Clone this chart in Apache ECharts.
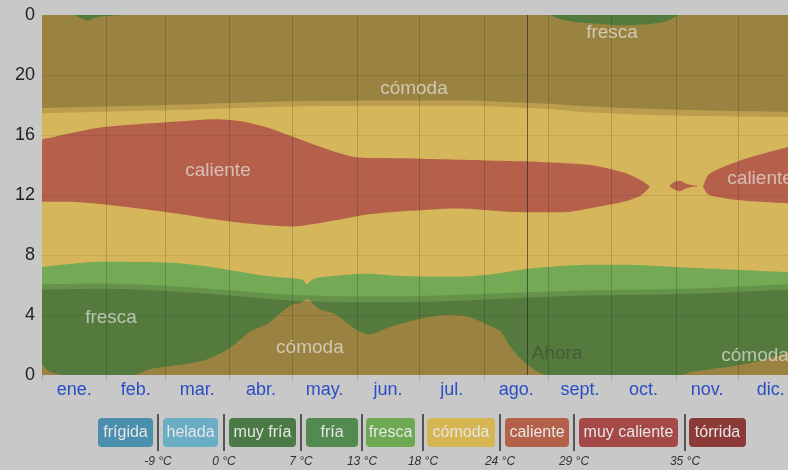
<!DOCTYPE html>
<html>
<head>
<meta charset="utf-8">
<script src="https://cdn.jsdelivr.net/npm/echarts@6/dist/echarts.min.js"></script>
<style>
  html, body { margin: 0; padding: 0; background: #c8c8c8; }
  #chart { width: 788px; height: 470px; }
</style>
</head>
<body>
<div id="chart"></div>
<script>
// months (x axis in day of year)
const months = ['ene.', 'feb.', 'mar.', 'abr.', 'may.', 'jun.', 'jul.', 'ago.', 'sept.', 'oct.', 'nov.', 'dic.'];
const monthStarts = [0, 31, 59, 90, 120, 151, 181, 212, 243, 273, 304, 334, 365];
const monthMids = [15.5, 45, 74.5, 105, 135.5, 166, 196.5, 227.5, 258, 288.5, 319, 349.5];
const hourTicks = [4, 8, 12, 16, 20];
const nowDay = 232.6;
// the picture is cut a week before the end of the year
const lastVisibleDay = 357.8;

// band boundaries: [day, hour]
const comodaBottomTop = [[0, 0.7], [4, 0.2], [12, 0], [44, 0], [52, 0.4], [76, 0.9], [85, 1.4], [92, 2.0], [100, 2.9],
  [108, 3.4], [115, 4.2], [120, 4.7], [124, 4.8], [127, 5.05], [133, 4.4], [140, 4.1], [151, 3.0], [157, 2.7],
  [167, 3.2], [183, 3.8], [195, 4.0], [204, 3.9], [213, 3.4], [220, 2.9], [224, 2.0], [231, 0.9], [242, 0],
  [307, 0], [311, 0.2], [327, 0.5], [343, 0.9], [358, 1.5], [365, 1.7]];
const frescaTop = [[0, 7.2], [28, 7.55], [60, 7.5], [76, 7.3], [92, 6.95], [108, 6.6], [120, 6.45], [125, 6.35],
  [127, 6.05], [129.5, 6.35], [133, 6.5], [148, 6.7], [156, 6.75], [172, 6.6], [199, 6.55], [215, 6.7],
  [234, 7.1], [263, 7.35], [279, 7.35], [311, 7.15], [343, 6.95], [365, 6.8]];
const comodaMidTop = [[0, 11.55], [12, 11.55], [28, 11.4], [60, 10.85], [92, 10.2], [120, 9.9], [140, 10.3],
  [156, 10.7], [172, 10.9], [199, 11.1], [231, 10.85], [250, 10.85], [266, 11.2], [279, 11.55], [287, 11.95],
  [291.6, 12.55], [293, 13], [300, 13], [301, 12.6], [303, 12.4], [306, 12.25], [309, 12.45], [312, 12.55],
  [314.5, 12.6], [316, 13], [317, 12.55], [320, 12.0], [335, 11.65], [358, 11.45], [365, 11.4]];
const calienteTop = [[0, 15.7], [28, 16.5], [60, 16.85], [84, 17.05], [96, 16.9], [108, 16.5], [120, 15.9],
  [140, 14.9], [152, 14.5], [172, 14.45], [215, 14.3], [239, 14.2], [263, 14.0], [279, 13.5], [287, 13.0],
  [291.6, 12.55], [293, 12.2], [300, 12.2], [301, 12.6], [303, 12.85], [306, 12.95], [309, 12.75], [312, 12.65],
  [314.5, 12.6], [316, 12.2], [317, 12.55], [320, 13.4], [335, 14.3], [358, 15.2], [365, 15.4]];
const comodaTopTop = [[0, 24], [15, 24], [19, 23.75], [22, 23.62], [26, 23.85], [33, 23.95], [40, 24],
  [243.6, 24], [247, 23.78], [254.7, 23.55], [262.8, 23.45], [278.7, 23.3], [291.6, 23.4], [299.8, 23.6],
  [306, 24], [365, 24]];
const frescaTopTop = [[0, 24], [365, 24]];

// daylight shading
const nightTop = [[0, 17.8], [60, 18.0], [120, 18.25], [172, 18.3], [200, 18.3], [240, 18.1], [263, 17.9],
  [300, 17.7], [358, 17.55], [365, 17.55]];
const twilightTop = [[0, 17.45], [60, 17.65], [120, 17.9], [172, 17.95], [200, 17.95], [240, 17.75],
  [263, 17.5], [300, 17.3], [358, 17.2], [365, 17.2]];
const nightBottom = [[0, 5.7], [30, 5.75], [60, 5.6], [90, 5.3], [120, 4.95], [150, 4.85], [172, 4.85],
  [200, 4.95], [230, 5.15], [263, 5.3], [290, 5.35], [320, 5.45], [350, 5.65], [365, 5.7]];
const twilightBottom = [[0, 6.05], [30, 6.1], [60, 5.95], [90, 5.65], [120, 5.35], [150, 5.25], [172, 5.25],
  [200, 5.35], [230, 5.5], [263, 5.65], [290, 5.7], [320, 5.8], [350, 6.0], [365, 6.05]];

// text in the bands: [day, hour, text]
const regionLabels = [[178.4, 19.1, 'cómoda'], [84.4, 13.6, 'caliente'], [273.4, 22.8, 'fresca'],
  [344.4, 13.1, 'caliente'], [33.1, 3.8, 'fresca'], [128.5, 1.8, 'cómoda'], [342, 1.25, 'cómoda']];
const nowLabel = [247, 1.4, 'Ahora'];

// legend
const legendNames = ['frígida', 'helada', 'muy fría', 'fría', 'fresca', 'cómoda', 'caliente', 'muy caliente', 'tórrida'];
const legendColors = ['#4a8fae', '#6aaec6', '#4b7a47', '#538a4f', '#6fa853', '#d6b553', '#b5604a', '#a44848', '#8c3a37'];
const legendTemps = ['-9 °C', '0 °C', '7 °C', '13 °C', '18 °C', '24 °C', '29 °C', '35 °C'];

const C_COMODA = '#d6b65a';
const C_CALIENTE = '#b5604a';
const C_FRESCA = '#74a956';
const FONT = '"Liberation Sans", Arial, sans-serif';

function band(name, data, color, origin) {
    return {
        name: name,
        type: 'line',
        data: data,
        smooth: 0.25,
        symbol: 'none',
        silent: true,
        lineStyle: {width: 0},
        areaStyle: {color: color, opacity: 1, origin: origin || 'start'}
    };
}

// legend layout
const boxX = [[98, 153], [163, 218], [229, 296], [306, 358], [366, 415], [427, 495], [505, 569], [579, 678], [689, 746]];
const sepX = [158, 224, 301, 362, 423, 500, 574, 685];
const graphic = [];
legendNames.forEach((n, i) => {
    const [a, b] = boxX[i];
    graphic.push({type: 'rect', shape: {x: a, y: 418, width: b - a, height: 29, r: 4}, style: {fill: legendColors[i]}});
    graphic.push({type: 'text', x: (a + b) / 2, y: 433, style: {text: n, fill: '#e6e6e6', font: '16px ' + FONT, align: 'center', verticalAlign: 'middle'}});
});
sepX.forEach((s, i) => {
    graphic.push({type: 'line', shape: {x1: s, y1: 414, x2: s, y2: 451}, style: {stroke: '#555', lineWidth: 2}});
    graphic.push({type: 'text', x: s, y: 462, style: {text: legendTemps[i], fill: '#333', font: 'italic 12px ' + FONT, align: 'center', verticalAlign: 'middle'}});
});

// grid lines drawn over the bands
const gridLines = monthStarts.slice(1, 12).map(d => ({xAxis: d, lineStyle: {color: 'rgba(0,0,0,0.16)', width: 1, type: 'solid'}}))
    .concat(hourTicks.map(h => ({yAxis: h, lineStyle: {color: 'rgba(0,0,0,0.08)', width: 1, type: 'solid'}})))
    .concat([{xAxis: nowDay, lineStyle: {color: 'rgba(30,30,30,0.6)', width: 1, type: 'solid'}}]);

const chart = echarts.init(document.getElementById('chart'));
chart.setOption({
    backgroundColor: '#c8c8c8',
    animation: false,
    grid: {left: 42, right: 0, top: 15, bottom: 95, containLabel: false},
    xAxis: {
        type: 'value', min: 0, max: lastVisibleDay,
        axisLine: {show: false},
        axisTick: {show: true, customValues: monthStarts.slice(0, 12), length: 6, lineStyle: {color: 'rgba(0,0,0,0.15)'}},
        axisLabel: {
            customValues: monthMids,
            formatter: v => months[monthMids.indexOf(v)] || '',
            color: '#2a4fc4', fontSize: 18, margin: 6, fontFamily: FONT
        },
        splitLine: {show: false}
    },
    yAxis: {
        type: 'value', min: 0, max: 24, interval: 4,
        axisLine: {show: false},
        axisTick: {show: false},
        axisLabel: {formatter: v => (v === 24 ? '0' : String(v)), color: '#222', fontSize: 18, margin: 7, fontFamily: FONT},
        splitLine: {show: false}
    },
    graphic: graphic,
    series: [
        band('fresca arriba', frescaTopTop, C_FRESCA),
        band('cómoda arriba', comodaTopTop, C_COMODA),
        band('caliente', calienteTop, C_CALIENTE),
        band('cómoda medio', comodaMidTop, C_COMODA),
        band('fresca', frescaTop, C_FRESCA),
        band('cómoda abajo', comodaBottomTop, C_COMODA),
        band('crepúsculo tarde', twilightTop, 'rgba(0,0,0,0.13)', 'end'),
        band('noche tarde', nightTop, 'rgba(0,0,0,0.17)', 'end'),
        band('crepúsculo mañana', twilightBottom, 'rgba(0,0,0,0.13)'),
        band('noche mañana', nightBottom, 'rgba(0,0,0,0.17)'),
        {
            type: 'scatter',
            z: 10,
            symbolSize: 0,
            silent: true,
            clip: false,
            data: regionLabels.map(d => ({value: d}))
                .concat([{value: nowLabel, label: {color: 'rgba(40,45,40,0.45)'}}]),
            label: {
                show: true, position: 'inside',
                formatter: p => p.value[2],
                color: 'rgba(232,232,232,0.85)', fontSize: 19, fontFamily: FONT
            },
            markLine: {
                silent: true, symbol: 'none', label: {show: false},
                data: gridLines
            }
        }
    ]
});
</script>
</body>
</html>
